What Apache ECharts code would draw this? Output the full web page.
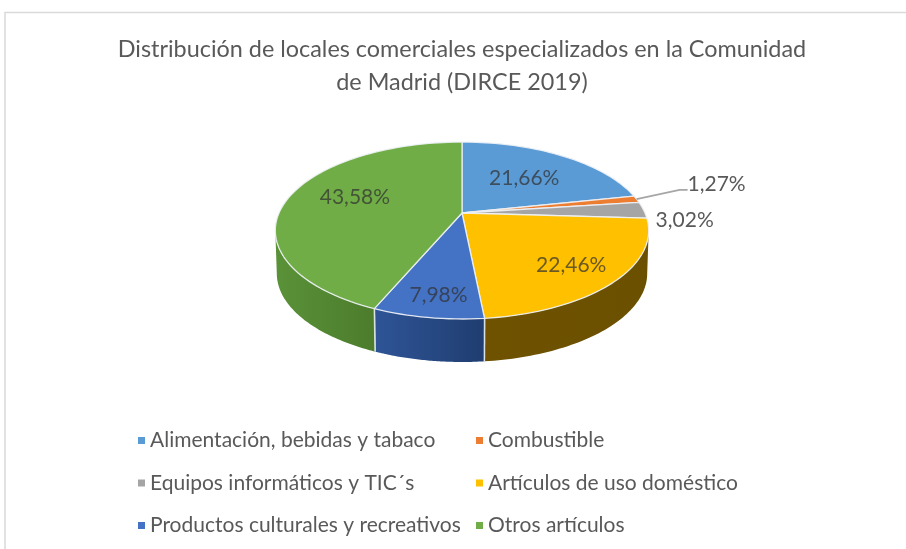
<!DOCTYPE html>
<html>
<head>
<meta charset="utf-8">
<style>html,body{margin:0;padding:0;background:#fff}#c{width:906px;height:549px;filter:blur(0.5px)}</style>
<script src="https://cdn.jsdelivr.net/npm/echarts@6/dist/echarts.min.js"></script>
</head>
<body>
<div id="c"></div>
<script>
const categories = ['Alimentación, bebidas y tabaco','Combustible','Equipos informáticos y TIC´s','Artículos de uso doméstico','Productos culturales y recreativos','Otros artículos'];
const shares = [21.66,1.27,3.02,22.46,7.98,43.58];
const titleText = 'Distribución de locales comerciales especializados en la Comunidad\nde Madrid (DIRCE 2019)';

// styling, not data
const colors = ['#5B9BD5','#ED7D31','#A5A5A5','#FFC000','#4472C4','#70AD47'];
const wallColors = [
  ['#3d6f9c','#2e5a82'],['#a85823','#8c4a1d'],['#767676','#606060'],
  ['#6e5200','#6b5000'],['#2f5597','#1f3d70'],['#5a9238','#4c7c2c']
];
const labelPlacement = [ // radial fraction and fine offset
  {r:0.60,dx:-1,dy:2},{r:1.39,dx:15,dy:-10},{r:1.20,dx:5,dy:11},
  {r:0.75,dx:-1,dy:3},{r:0.78,dx:2,dy:5},{r:0.60,dx:-2,dy:-6}
];
const geo = {cx:462,cy:213,A:183,B:85,k:0.198,depth:43,bottomScale:0.992};
const total = shares.reduce((a,b)=>a+b,0);
const starts = [];
shares.reduce((acc,v,i)=>{starts[i]=acc;return acc+v;},0);
const ang = s => s/total*2*Math.PI;
function proj(theta,r){
  const u=r*Math.sin(theta), v=r*Math.cos(theta), w=1+geo.k*v;
  return [geo.cx+geo.A*u/w, geo.cy-geo.B*v/w];
}
function arc(a,b,n){
  const out=[];
  for(let i=0;i<=n;i++) out.push(a+(b-a)*i/n);
  return out;
}
const frontFrom = Math.PI-Math.asin(Math.sqrt(1-geo.k*geo.k));
const frontTo = 2*Math.PI-frontFrom;
const lowered = p => [geo.cx+(p[0]-geo.cx)*geo.bottomScale, p[1]+geo.depth];
const labelFont = '21px Lato, "Noto Sans", sans-serif';

function renderSlice(i){
  return function(){
    const a=ang(starts[i]), b=ang(starts[i]+shares[i]);
    const children=[];
    const wa=Math.max(a,frontFrom), wb=Math.min(b,frontTo);
    if(wb>wa){
      const top=arc(wa,wb,60).map(t=>proj(t,1));
      const bottom=top.map(lowered).reverse();
      const xs=top.map(p=>p[0]);
      children.push({type:'polygon',shape:{points:top.concat(bottom)},
        style:{fill:new echarts.graphic.LinearGradient(Math.min(...xs),0,Math.max(...xs),0,
          [{offset:0,color:wallColors[i][0]},{offset:1,color:wallColors[i][1]}],true),
          stroke:null}});
      [a,b].forEach(t=>{
        if(t>=frontFrom&&t<=frontTo){
          const p=proj(t,1),q=lowered(p);
          children.push({type:'line',shape:{x1:p[0],y1:p[1],x2:q[0],y2:q[1]},
            style:{stroke:'rgba(235,240,245,0.8)',lineWidth:1.5}});
        }
      });
    }
    const pts=[proj(a,0)].concat(arc(a,b,Math.max(6,Math.ceil(shares[i]*2))).map(t=>proj(t,1)));
    children.push({type:'polygon',shape:{points:pts},
      style:{fill:colors[i],stroke:'rgba(238,242,246,0.9)',lineWidth:1.3,lineJoin:'round'}});
    const mid=(a+b)/2, lp=labelPlacement[i], c=proj(mid,lp.r);
    const lx=c[0]+lp.dx, ly=c[1]+lp.dy;
    const outside=lp.r>1;
    if(i===1){
      const s=proj(mid,1), e=[lx-29,ly+6];
      children.push({type:'polyline',shape:{points:[s,[e[0]-8,e[1]],e]},
        style:{stroke:'#a6a6a6',lineWidth:1.8,fill:null},z2:5});
    }
    children.push({type:'text',x:lx,y:ly,z2:10,
      style:{text:shares[i].toFixed(2).replace('.',',')+'%',font:labelFont,
        fill:outside?'#595959':'rgba(48,48,48,0.72)',align:'center',verticalAlign:'middle'}});
    return {type:'group',children};
  };
}

const series = categories.map((name,i)=>({
  type:'custom',name,coordinateSystem:'none',
  data:[shares[i]],itemStyle:{color:colors[i]},
  renderItem:renderSlice(i),silent:true
}));
const legendText = {fontFamily:'Lato, "Noto Sans", sans-serif',fontSize:21,color:'#595959'};
const legendBase = {orient:'vertical',icon:'rect',itemWidth:7,itemHeight:7,itemGap:21.5,top:425,textStyle:legendText,selectedMode:false};

const chart = echarts.init(document.getElementById('c'),null,{renderer:'canvas'});
chart.setOption({
  animation:false,
  backgroundColor:'#fff',
  title:{text:titleText,left:457,textAlign:'center',top:28,
    textStyle:{fontFamily:'Lato, "Noto Sans", sans-serif',fontWeight:'normal',fontSize:23.4,lineHeight:33,color:'#595959'}},
  legend:[
    Object.assign({},legendBase,{left:133,data:[categories[0],categories[2],categories[4]]}),
    Object.assign({},legendBase,{left:471,data:[categories[1],categories[3],categories[5]]})
  ],
  graphic:[{type:'polyline',shape:{points:[[5,549],[5,12.5],[906,12.5]]},
    style:{stroke:'#d9d9d9',lineWidth:1.5,fill:null},silent:true}],
  series
});
</script>
</body>
</html>
